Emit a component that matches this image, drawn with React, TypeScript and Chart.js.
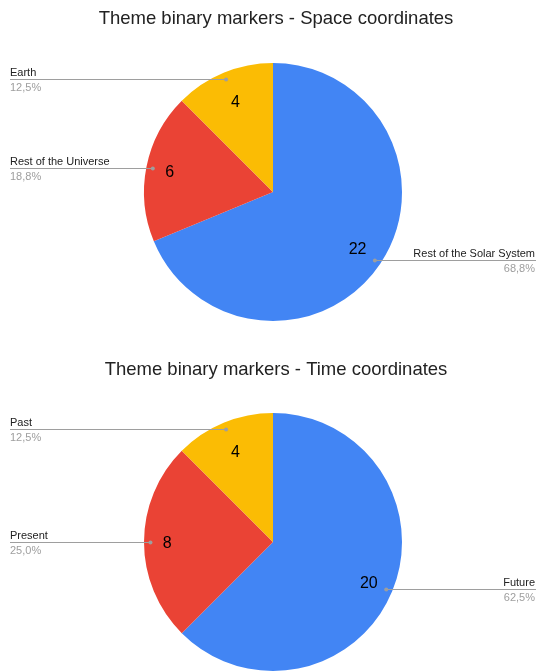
import React, { useEffect, useRef } from "react";
import { Chart, registerables } from "chart.js";

Chart.register(...registerables);

const spaceTitle = "Theme binary markers - Space coordinates";
const spaceLabels = ["Rest of the Solar System", "Rest of the Universe", "Earth"];
const spaceValues = [22, 6, 4];

const timeTitle = "Theme binary markers - Time coordinates";
const timeLabels = ["Future", "Present", "Past"];
const timeValues = [20, 8, 4];

const sliceColors = ["#4285F4", "#EA4335", "#FBBC04"];

const FONT = "'Liberation Sans', Arial, sans-serif";

function makeLabelPlugin(title: string, titleY: number) {
  return {
    id: "pieLabels",
    afterDraw(chart: any) {
      const ctx = chart.ctx;
      const ds = chart.data.datasets[0];
      const values: number[] = ds.data;
      const total = values.reduce((a, b) => a + b, 0);
      const meta = chart.getDatasetMeta(0);
      ctx.save();
      // title
      ctx.font = `18.5px ${FONT}`;
      ctx.fillStyle = "#222222";
      ctx.textAlign = "center";
      ctx.textBaseline = "middle";
      ctx.fillText(title, 276, titleY);

      meta.data.forEach((arc: any, i: number) => {
        const p = arc.getProps(["x", "y", "startAngle", "endAngle", "outerRadius"], true);
        const mid = (p.startAngle + p.endAngle) / 2;
        const r = p.outerRadius;
        // value label (slightly further out for near-horizontal directions)
        const f = 0.76 + 0.06 * Math.pow(Math.abs(Math.cos(mid)), 4);
        const lx = p.x + Math.cos(mid) * r * f;
        const ly = p.y + Math.sin(mid) * r * f + 1.5;
        ctx.font = `16px ${FONT}`;
        ctx.fillStyle = "#000000";
        ctx.textAlign = "center";
        ctx.textBaseline = "middle";
        ctx.fillText(String(values[i]), lx, ly);

        // leader
        const dx = p.x + Math.cos(mid) * r * 0.95;
        const dy = Math.round(p.y + Math.sin(mid) * r * 0.95) + 0.5;
        const left = Math.cos(mid) < 0;
        const edge = left ? 10 : 536;
        ctx.strokeStyle = "#9e9e9e";
        ctx.lineWidth = 1;
        ctx.beginPath();
        ctx.moveTo(edge, dy);
        ctx.lineTo(dx, dy);
        ctx.stroke();
        ctx.fillStyle = "#9e9e9e";
        ctx.beginPath();
        ctx.arc(dx, dy, 2, 0, Math.PI * 2);
        ctx.fill();

        const pct = ((values[i] / total) * 100).toFixed(1).replace(".", ",") + "%";
        ctx.font = `11px ${FONT}`;
        ctx.textAlign = left ? "left" : "right";
        ctx.textBaseline = "alphabetic";
        const tx = left ? 10 : 535;
        ctx.fillStyle = "#222222";
        ctx.fillText(chart.data.labels[i], tx, dy - 3.5);
        ctx.fillStyle = "#9e9e9e";
        ctx.fillText(pct, tx, dy + 11.5);
      });
      ctx.restore();
    },
  };
}

function PieChart(props: {
  title: string;
  labels: string[];
  values: number[];
  height: number;
  padTop: number;
  padBottom: number;
  titleY: number;
}) {
  const ref = useRef<HTMLCanvasElement>(null);
  useEffect(() => {
    if (!ref.current) return;
    const chart = new Chart(ref.current, {
      type: "pie",
      data: {
        labels: props.labels,
        datasets: [
          {
            data: props.values,
            backgroundColor: sliceColors,
            borderWidth: 0,
          },
        ],
      },
      options: {
        animation: false,
        responsive: false,
        maintainAspectRatio: false,
        layout: { padding: { left: 9, right: 0, top: props.padTop, bottom: props.padBottom } },
        plugins: {
          legend: { display: false },
          tooltip: { enabled: false },
          title: { display: false },
        },
      },
      plugins: [makeLabelPlugin(props.title, props.titleY)],
    });
    return () => chart.destroy();
  }, []);
  return (
    <div style={{ width: 537, height: props.height }}>
      <canvas ref={ref} width={537} height={props.height} style={{ display: "block" }} />
    </div>
  );
}

export default function App() {
  return (
    <div
      style={{
        position: "absolute",
        left: 0,
        top: 0,
        width: 537,
        height: 671,
        background: "#ffffff",
      }}
    >
      <PieChart
        title={spaceTitle}
        labels={spaceLabels}
        values={spaceValues}
        height={335}
        padTop={63}
        padBottom={14}
        titleY={19}
      />
      <PieChart
        title={timeTitle}
        labels={timeLabels}
        values={timeValues}
        height={336}
        padTop={78}
        padBottom={0}
        titleY={35}
      />
    </div>
  );
}
